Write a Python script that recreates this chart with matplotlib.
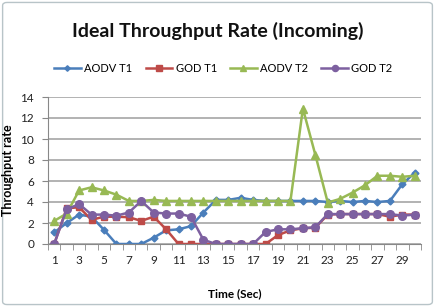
import matplotlib
matplotlib.use("Agg")
import matplotlib.pyplot as plt
from matplotlib.patches import FancyBboxPatch
import numpy as np

time = list(range(1, 31))
aodv_t1 = [1.1, 2.0, 2.8, 2.6, 1.35, 0, 0, 0, 0.6, 1.3, 1.4, 1.7, 3.0, 4.2, 4.2, 4.4, 4.2, 4.1, 4.1, 4.1,
           4.1, 4.1, 4.0, 4.1, 4.0, 4.1, 4.0, 4.1, 5.7, 6.8]
god_t1 = [0, 3.4, 3.5, 2.3, 2.6, 2.6, 2.55, 2.2, 2.6, 1.4, 0, 0, 0, 0, 0, 0, 0, 0, 0.85, 1.3,
          1.5, 1.55, 2.8, 2.85, 2.85, 2.85, 2.85, 2.6, 2.8, 2.8]
aodv_t2 = [2.2, 2.9, 5.1, 5.4, 5.1, 4.7, 4.1, 4.1, 4.2, 4.1, 4.1, 4.1, 4.1, 4.1, 4.1, 4.1, 4.1, 4.1, 4.1, 4.1,
           12.9, 8.5, 3.95, 4.3, 4.9, 5.6, 6.5, 6.5, 6.4, 6.5]
god_t2 = [0, 3.3, 3.8, 2.8, 2.8, 2.7, 3.0, 4.1, 3.0, 2.9, 2.9, 2.6, 0.4, 0, 0, 0, 0, 1.15, 1.4, 1.4,
          1.5, 1.6, 2.85, 2.85, 2.85, 2.85, 2.85, 2.85, 2.7, 2.8]
xtick_labels = [str(v) for v in range(1, 30, 2)]
yticks = list(range(0, 15, 2))

plt.rcParams['font.family'] = ['Lato', 'DejaVu Sans']

fig = plt.figure(figsize=(4.35, 3.07), dpi=100)
border = FancyBboxPatch((0.006, 0.008), 0.988, 0.984, boxstyle="round,pad=0,rounding_size=0.01",
                        transform=fig.transFigure, facecolor='none', edgecolor='#b8c4c8', lw=1.0,
                        zorder=-5)
fig.patches.append(border)

ax = fig.add_axes([48/435, 63/307, 373/435, 147/307])
ax.set_facecolor('none')

series = [
    (aodv_t1, 'AODV T1', '#4A7EBB', 'D', 3.5),
    (god_t1, 'GOD T1', '#BE4B48', 's', 5),
    (aodv_t2, 'AODV T2', '#98B954', '^', 5.5),
    (god_t2, 'GOD T2', '#7D60A0', 'o', 5.5),
]
for data, label, color, marker, ms in series:
    ax.plot(time, data, color=color, lw=1.8, marker=marker, markersize=ms,
            markerfacecolor=color, markeredgecolor=color, label=label)

ax.set_xlim(0.5, 30.5)
ax.set_ylim(0, 14)
ax.set_yticks(yticks)
ax.set_yticklabels([str(v) for v in yticks], fontsize=8.5, color='#222222')
ax.set_xticks(list(range(1, 30, 2)))
ax.set_xticklabels(xtick_labels, fontsize=8.5, color='#222222')
ax.set_xticks(np.arange(0.5, 31, 1), minor=True)
ax.tick_params(axis='x', which='major', length=0, pad=8)
ax.tick_params(axis='x', which='minor', length=4, color='#888888', direction='out')
ax.tick_params(axis='y', length=4, color='#888888', direction='out', pad=6)
ax.grid(axis='y', color='#a6a6a6', lw=1.2)
ax.set_axisbelow(True)
for s in ['top', 'right']:
    ax.spines[s].set_visible(False)
ax.spines['left'].set_color('#888888')
ax.spines['bottom'].set_color('#888888')

ax.set_xlabel('Time (Sec)', fontsize=8.5, fontweight='bold')
ax.xaxis.set_label_coords(0.5, -44/147)
ax.set_ylabel('Throughput rate', fontsize=9, fontweight='bold')
ax.yaxis.set_label_coords(-34/373, 0.5)

fig.text(0.5, 1 - 31/307, 'Ideal Throughput Rate (Incoming)', ha='center', va='center',
         fontsize=14, fontweight='bold', color='#111111')
ax.legend(loc='center', bbox_to_anchor=(0.47, (307 - 68 - 63) / 147), ncol=4, frameon=False,
          fontsize=8, handlelength=2.4, columnspacing=1.2, handletextpad=0.3, markerscale=0.8)

fig.savefig('out.png', dpi=100)
